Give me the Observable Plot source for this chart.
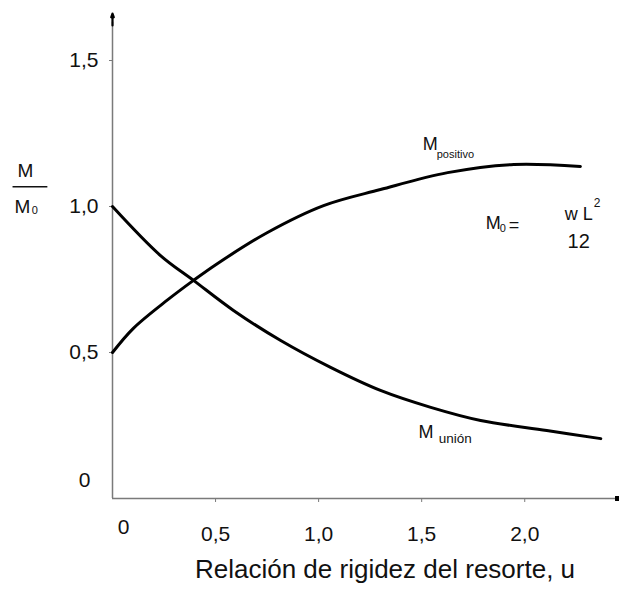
<!DOCTYPE html>
<html>
<head>
<meta charset="utf-8">
<script src="https://cdn.jsdelivr.net/npm/d3@7"></script>
<script src="https://cdn.jsdelivr.net/npm/@observablehq/plot@0.6"></script>
<style>
  html, body { margin: 0; padding: 0; background: #fff; }
</style>
</head>
<body>
<div id="chart"></div>
<script>
// ---- data ----
const uUnion = [0, 0.233, 0.393, 0.587, 0.816, 1.058, 1.30, 1.544, 1.786, 2.107, 2.369];
const mUnion = [1.0, 0.832, 0.747, 0.644, 0.541, 0.449, 0.370, 0.312, 0.267, 0.233, 0.205];
const uPositivo = [0, 0.10, 0.267, 0.393, 0.51, 0.752, 1.024, 1.30, 1.626, 1.947, 2.27];
const mPositivo = [0.5, 0.582, 0.680, 0.747, 0.805, 0.911, 1.003, 1.058, 1.116, 1.144, 1.137];

const xTicks = [0.5, 1, 1.5, 2];
const xTickLabels = ["0,5", "1,0", "1,5", "2,0"];
const yTicks = [0.5, 1, 1.5];
const yTickLabels = ["0,5", "1,0", "1,5"];
const zeroLabel = "0";
const xTitle = "Relación de rigidez del resorte, u";

// annotation texts (positions in data units)
const bigLabels = [
  {x: 1.505, y: 1.212, t: "M"},      // M positivo
  {x: 1.485, y: 0.226, t: "M"},      // M unión
  {x: 1.811, y: 0.942, t: "M"},      // M0 =
  {x: 1.922, y: 0.935, t: "="},
  {x: 2.194, y: 0.973, t: "w L"}
];
const smallLabels = [
  {x: 1.573, y: 1.178, t: "positivo", s: 11},
  {x: 1.583, y: 0.205, t: "unión", s: 13.5},
  {x: 1.879, y: 0.925, t: "0", s: 11},
  {x: 2.335, y: 1.012, t: "2", s: 12},
  {x: -0.392, y: 0.986, t: "0", s: 11}
];
const midLabels = [
  {x: -0.422, y: 1.123, t: "M", s: 19},
  {x: -0.437, y: 1.000, t: "M", s: 19},
  {x: 2.262, y: 0.880, t: "12", s: 20}
];
const fracBar = [{x1: -0.485, x2: -0.316, y: 1.068}];

const xMax = 2.45, yMax = 1.661;

const union = uUnion.map((u, i) => ({u, m: mUnion[i]}));
const positivo = uPositivo.map((u, i) => ({u, m: mPositivo[i]}));

const font = "'Liberation Sans', Arial, sans-serif";
const tickFont = 21;

const chart = Plot.plot({
  width: 619,
  height: 591,
  marginLeft: 112,
  marginRight: 2,
  marginTop: 13,
  marginBottom: 93,
  x: {domain: [0, xMax], label: null},
  y: {domain: [0, yMax], label: null},
  style: {fontFamily: font, fontSize: "19px", color: "#111", background: "#fff", overflow: "visible"},
  marks: [
    Plot.ruleY([0], {x1: 0, x2: xMax, stroke: "#7a7a7a", strokeWidth: 1.5}),
    Plot.ruleX([0], {y1: 0, y2: yMax - 0.03, stroke: "#7a7a7a", strokeWidth: 1.5}),
    Plot.arrow([{x: 0, y1: 1.62, y2: yMax}], {x1: "x", x2: "x", y1: "y1", y2: "y2", stroke: "#000", strokeWidth: 2.2, headLength: 11, headAngle: 38}),
    Plot.dot([{x: xMax, y: 0}], {x: "x", y: "y", symbol: "square", r: 2.8, fill: "#000"}),
    Plot.axisX(xTicks, {tickSize: 4, tickPadding: 24, stroke: "#7a7a7a", fill: "#111", fontSize: tickFont, label: null,
      tickFormat: d => xTickLabels[xTicks.indexOf(d)]}),
    Plot.axisX([0], {tickSize: 0, tickPadding: 21, dx: 11, fill: "#111", fontSize: tickFont, label: null,
      tickFormat: () => zeroLabel}),
    Plot.axisY(yTicks, {tickSize: 3, tickPadding: 11, stroke: "#7a7a7a", fill: "#111", fontSize: tickFont, label: null,
      tickFormat: d => yTickLabels[yTicks.indexOf(d)]}),
    Plot.axisY([0], {tickSize: 0, tickPadding: 22, dy: -18, fill: "#111", fontSize: tickFont, label: null,
      tickFormat: () => zeroLabel}),
    Plot.line(union, {x: "u", y: "m", stroke: "#000", strokeWidth: 3, curve: "catmull-rom"}),
    Plot.line(positivo, {x: "u", y: "m", stroke: "#000", strokeWidth: 3, curve: "catmull-rom"}),
    Plot.text(bigLabels, {x: "x", y: "y", text: "t", textAnchor: "start", fontSize: 18, fill: "#111"}),
    Plot.text(smallLabels, {x: "x", y: "y", text: "t", textAnchor: "start", fontSize: "s", fill: "#111"}),
    Plot.text(midLabels, {x: "x", y: "y", text: "t", textAnchor: "middle", fontSize: "s", fill: "#111"}),
    Plot.link(fracBar, {x1: "x1", x2: "x2", y1: "y", y2: "y", stroke: "#111", strokeWidth: 1.5}),
    Plot.text([xTitle], {frameAnchor: "bottom", dx: 20, dy: 79, fontSize: 26, fill: "#111"})
  ]
});
document.getElementById("chart").appendChild(chart);
</script>
</body>
</html>
